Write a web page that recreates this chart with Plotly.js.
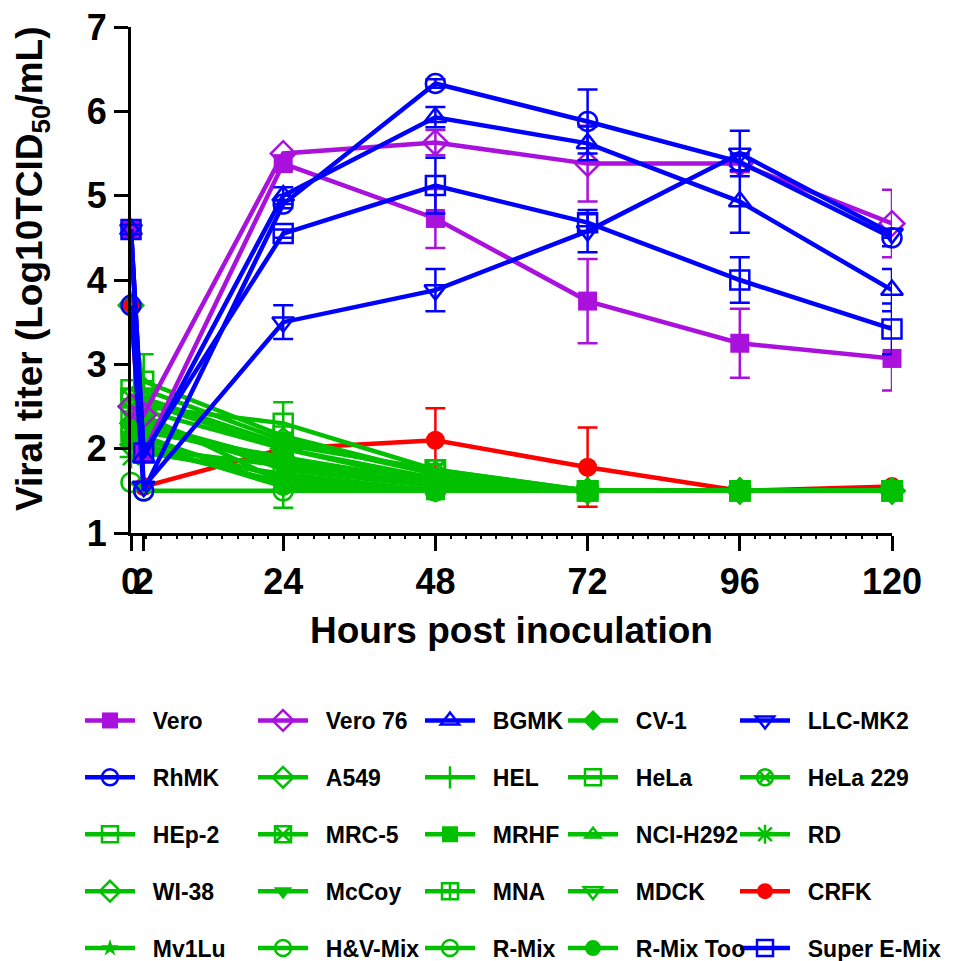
<!DOCTYPE html>
<html><head><meta charset="utf-8">
<script src="https://cdn.plot.ly/plotly-3.0.1.min.js"></script>
<style>html,body{margin:0;padding:0;background:#fff}#chart{width:959px;height:961px}</style>
</head><body><div id="chart"></div>
<script>
// hours post inoculation
const hours = [0, 2, 24, 48, 72, 96, 120];
const xTickVals = [0, 2, 24, 48, 72, 96, 120];
const yTickVals = [1, 2, 3, 4, 5, 6, 7];

// viral titers (Log10 TCID50/mL) per cell line, and SD error bars (0 = no bar)
const vero        = [4.6, 1.95, 5.38, 4.73, 3.75, 3.25, 3.07];
const veroErr     = [0, 0, 0.08, 0.35, 0.5, 0.41, 0.38];
const vero76      = [2.5, 2.4, 5.5, 5.63, 5.38, 5.38, 4.67];
const vero76Err   = [0, 0, 0, 0.15, 0.45, 0.1, 0.4];
const bgmk        = [4.6, 1.9, 5.0, 5.93, 5.62, 4.93, 3.88];
const bgmkErr     = [0, 0, 0.1, 0.12, 0.2, 0.37, 0.25];
const llcmk2      = [4.6, 1.55, 3.5, 3.88, 4.58, 5.5, 4.55];
const llcmk2Err   = [0, 0, 0.2, 0.25, 0.25, 0.27, 0.05];
const rhmk        = [3.7, 1.5, 4.9, 6.33, 5.88, 5.4, 4.5];
const rhmkErr     = [0, 0, 0.05, 0.05, 0.38, 0.1, 0.1];
const superEMix   = [4.6, 1.95, 4.55, 5.12, 4.68, 4.0, 3.42];
const superEMixErr= [0, 0, 0.05, 0.33, 0.1, 0.27, 0.3];
const crfk        = [3.7, 1.55, 2.0, 2.1, 1.78, 1.5, 1.55];
const crfkErr     = [0, 0, 0, 0.38, 0.47, 0, 0];
const cv1         = [2.3, 2.2, 1.9, 1.6, 1.5, 1.5, 1.5];
const a549        = [2.5, 2.45, 2.0, 1.6, 1.5, 1.5, 1.5];
const hel         = [2.0, 2.0, 1.8, 1.55, 1.5, 1.5, 1.5];
const hela        = [2.4, 2.5, 2.3, 1.75, 1.5, 1.5, 1.5];
const helaErr     = [0, 0.3, 0.25, 0, 0, 0, 0];
const hela229     = [2.2, 2.1, 1.65, 1.5, 1.5, 1.5, 1.5];
const hep2        = [2.7, 2.8, 2.15, 1.7, 1.5, 1.5, 1.5];
const hep2Err     = [0, 0.32, 0, 0, 0, 0, 0];
const mrc5        = [2.6, 2.6, 2.05, 1.75, 1.5, 1.5, 1.5];
const mrhf        = [2.1, 2.0, 1.6, 1.5, 1.5, 1.5, 1.5];
const mrhfErr     = [0, 0, 0.3, 0, 0.05, 0, 0];
const nciH292     = [2.3, 2.3, 1.85, 1.6, 1.5, 1.5, 1.5];
const rd          = [1.9, 1.95, 1.7, 1.5, 1.5, 1.5, 1.5];
const wi38        = [3.7, 2.7, 2.1, 1.7, 1.5, 1.5, 1.5];
const mccoy       = [2.4, 2.35, 1.75, 1.55, 1.5, 1.5, 1.5];
const mna         = [2.2, 2.25, 1.8, 1.6, 1.5, 1.5, 1.5];
const mdck        = [2.0, 2.05, 1.55, 1.5, 1.5, 1.5, 1.5];
const mv1lu       = [2.5, 2.4, 1.6, 1.5, 1.5, 1.5, 1.5];
const hvMix       = [2.6, 2.55, 2.0, 1.65, 1.5, 1.5, 1.5];
const rMix        = [1.6, 1.5, 1.5, 1.5, 1.5, 1.5, 1.5];
const rMixToo     = [2.3, 2.15, 1.55, 1.5, 1.5, 1.5, 1.5];

const yTitle = 'Viral titer (Log10TCID<sub>50</sub>/mL)';
const xTitle = 'Hours post inoculation';

const PURPLE = '#AA11DD', BLUE = '#0000FF', GREEN = '#00C000', RED = '#FF0000';

// [name, values, errors, color, symbol, legend column, row]
const specs = [
  ['CRFK', crfk, crfkErr, RED, 'circle', 5, 4],
  ['CV-1', cv1, null, GREEN, 'diamond', 4, 1],
  ['A549', a549, null, GREEN, 'diamond-open', 2, 2],
  ['HEL', hel, null, GREEN, 'cross-thin-open', 3, 2],
  ['HeLa', hela, helaErr, GREEN, 'square-open', 4, 2],
  ['HeLa 229', hela229, null, GREEN, 'circle-x-open', 5, 2],
  ['HEp-2', hep2, hep2Err, GREEN, 'square-open-dot', 1, 3],
  ['MRC-5', mrc5, null, GREEN, 'square-x-open', 2, 3],
  ['NCI-H292', nciH292, null, GREEN, 'triangle-up-open', 4, 3],
  ['RD', rd, null, GREEN, 'asterisk-open', 5, 3],
  ['WI-38', wi38, null, GREEN, 'diamond-open-dot', 1, 4],
  ['McCoy', mccoy, null, GREEN, 'triangle-down', 2, 4],
  ['MNA', mna, null, GREEN, 'square-cross-open', 3, 4],
  ['MDCK', mdck, null, GREEN, 'triangle-down-open', 4, 4],
  ['Mv1Lu', mv1lu, null, GREEN, 'star', 1, 5],
  ['H&V-Mix', hvMix, null, GREEN, 'circle-open-dot', 2, 5],
  ['R-Mix', rMix, null, GREEN, 'circle-open', 3, 5],
  ['R-Mix Too', rMixToo, null, GREEN, 'circle', 4, 5],
  ['MRHF', mrhf, mrhfErr, GREEN, 'square', 3, 3],
  ['Vero', vero, veroErr, PURPLE, 'square', 1, 1],
  ['Vero 76', vero76, vero76Err, PURPLE, 'diamond-open', 2, 1],
  ['BGMK', bgmk, bgmkErr, BLUE, 'triangle-up-open', 3, 1],
  ['LLC-MK2', llcmk2, llcmk2Err, BLUE, 'triangle-down-open', 5, 1],
  ['RhMK', rhmk, rhmkErr, BLUE, 'circle-open', 1, 2],
  ['Super E-Mix', superEMix, superEMixErr, BLUE, 'square-open', 5, 5]
];

const legendNames = ['legend', 'legend2', 'legend3', 'legend4', 'legend5'];
const NBSP = '\u00A0';

const traces = specs.map(function (s, i) {
  const [name, vals, errs, color, symbol, col, row] = s;
  const open = symbol.indexOf('open') >= 0;
  const small = (symbol === 'star' || (symbol === 'triangle-up-open' && color === GREEN));
  const t = {
    type: 'scatter', mode: 'lines+markers', name: NBSP + NBSP + name,
    x: hours, y: vals, cliponaxis: false,
    line: {color: color, width: 4.5},
    marker: {symbol: symbol, color: color, size: small ? 13 : 19,
             line: {color: color, width: open ? 2.5 : 0}},
    legend: legendNames[col - 1], legendrank: row, legendgroup: 'g' + i
  };
  if (errs) {
    t.error_y = {type: 'data', array: errs.map(v => v > 0 ? v : NaN), visible: true,
                 color: color, thickness: 2.5, width: 10};
  }
  return t;
});

const FONT = 'Liberation Sans, Arial, sans-serif';
const legendX = [80, 253, 420, 563, 735];
const legendFont = {family: FONT, size: 23, color: '#000', weight: 'bold'};
const layout = {
  width: 959, height: 961,
  margin: {l: 131, r: 66.5, t: 27, b: 428, autoexpand: false},
  paper_bgcolor: '#fff', plot_bgcolor: '#fff',
  showlegend: true,
  font: {family: FONT, color: '#000'},
  xaxis: {
    range: [0, 120], tickmode: 'array', tickvals: xTickVals, ticktext: xTickVals.map(String),
    tickangle: 0, showgrid: false, zeroline: false, showline: true, linecolor: '#000', linewidth: 3,
    ticks: 'outside', ticklen: 15, tickwidth: 3, tickcolor: '#000',
    tickfont: {size: 36, weight: 'bold', family: FONT},
    minor: {dtick: 2.4, tick0: 0, ticks: 'outside', ticklen: 3, tickwidth: 2, tickcolor: '#000', showgrid: false},
    title: {text: xTitle, font: {size: 37, weight: 'bold'}, standoff: 16}
  },
  yaxis: {
    range: [1, 7], tickmode: 'array', tickvals: yTickVals, ticktext: yTickVals.map(String),
    showgrid: false, zeroline: false, showline: true, linecolor: '#000', linewidth: 3,
    ticks: 'outside', ticklen: 14, tickwidth: 3, tickcolor: '#000',
    tickfont: {size: 36, weight: 'bold', family: FONT}
  },
  annotations: [{
    text: yTitle, xref: 'paper', yref: 'paper',
    x: (32 - 131) / 761.5, y: (533 - 269) / 506, xanchor: 'center', yanchor: 'middle',
    textangle: -90, showarrow: false, font: {family: FONT, size: 37, weight: 'bold', color: '#000'}
  }]
};
legendNames.forEach(function (ln, k) {
  layout[ln] = {
    xref: 'container', yref: 'container',
    x: legendX[k] / 959, y: 1 - 699 / 961, xanchor: 'left', yanchor: 'top',
    orientation: 'v', font: legendFont, itemwidth: 50, tracegroupgap: 24,
    bgcolor: 'rgba(0,0,0,0)', borderwidth: 0, traceorder: 'grouped'
  };
});

Plotly.newPlot('chart', traces, layout, {displayModeBar: false, staticPlot: true});
</script></body></html>
